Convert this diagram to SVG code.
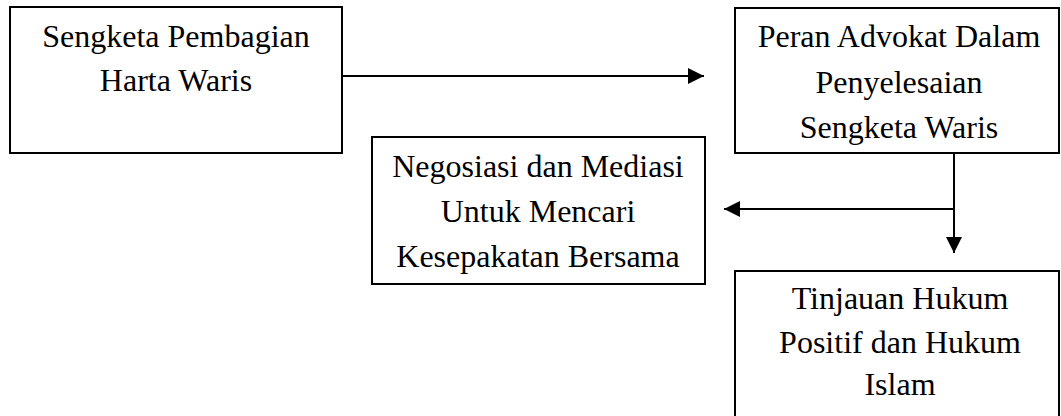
<svg xmlns="http://www.w3.org/2000/svg" width="1061" height="416" viewBox="0 0 1061 416">
<style>
.box{fill:#fff;stroke:#000;stroke-width:2}
.t{font-family:"Liberation Serif","Times New Roman",serif;font-size:32px;fill:#000;text-anchor:middle}
.c{fill:none;stroke:#000;stroke-width:2}
</style>
<defs>
<marker id="ah" markerUnits="userSpaceOnUse" markerWidth="16" markerHeight="16" viewBox="0 0 16 16" refX="16" refY="8" orient="auto">
<polygon points="0,0 16,8 0,16" fill="#000"/>
</marker>
</defs>
<rect width="1061" height="416" fill="#fff"/>
<g id="connectors">
<line class="c" x1="342" y1="76" x2="704" y2="76" marker-end="url(#ah)"/>
<line class="c" x1="954" y1="153" x2="954" y2="253" marker-end="url(#ah)"/>
<line class="c" x1="954" y1="209" x2="724" y2="209" marker-end="url(#ah)"/>
</g>
<g id="n1">
<rect class="box" x="10" y="7" width="332" height="146"/>
<text class="t" x="176" y="47">Sengketa Pembagian</text>
<text class="t" x="176" y="91">Harta Waris</text>
</g>
<g id="n2">
<rect class="box" x="735" y="8" width="324" height="145"/>
<text class="t" x="899" y="47">Peran Advokat Dalam</text>
<text class="t" x="899" y="93">Penyelesaian</text>
<text class="t" x="899" y="138">Sengketa Waris</text>
</g>
<g id="n3">
<rect class="box" x="372" y="137" width="333" height="147"/>
<text class="t" x="538" y="177">Negosiasi dan Mediasi</text>
<text class="t" x="538" y="222">Untuk Mencari</text>
<text class="t" x="538" y="267">Kesepakatan Bersama</text>
</g>
<g id="n4">
<rect class="box" x="735" y="271" width="324" height="160"/>
<text class="t" x="900" y="309">Tinjauan Hukum</text>
<text class="t" x="900" y="353">Positif dan Hukum</text>
<text class="t" x="900" y="395">Islam</text>
</g>
</svg>
